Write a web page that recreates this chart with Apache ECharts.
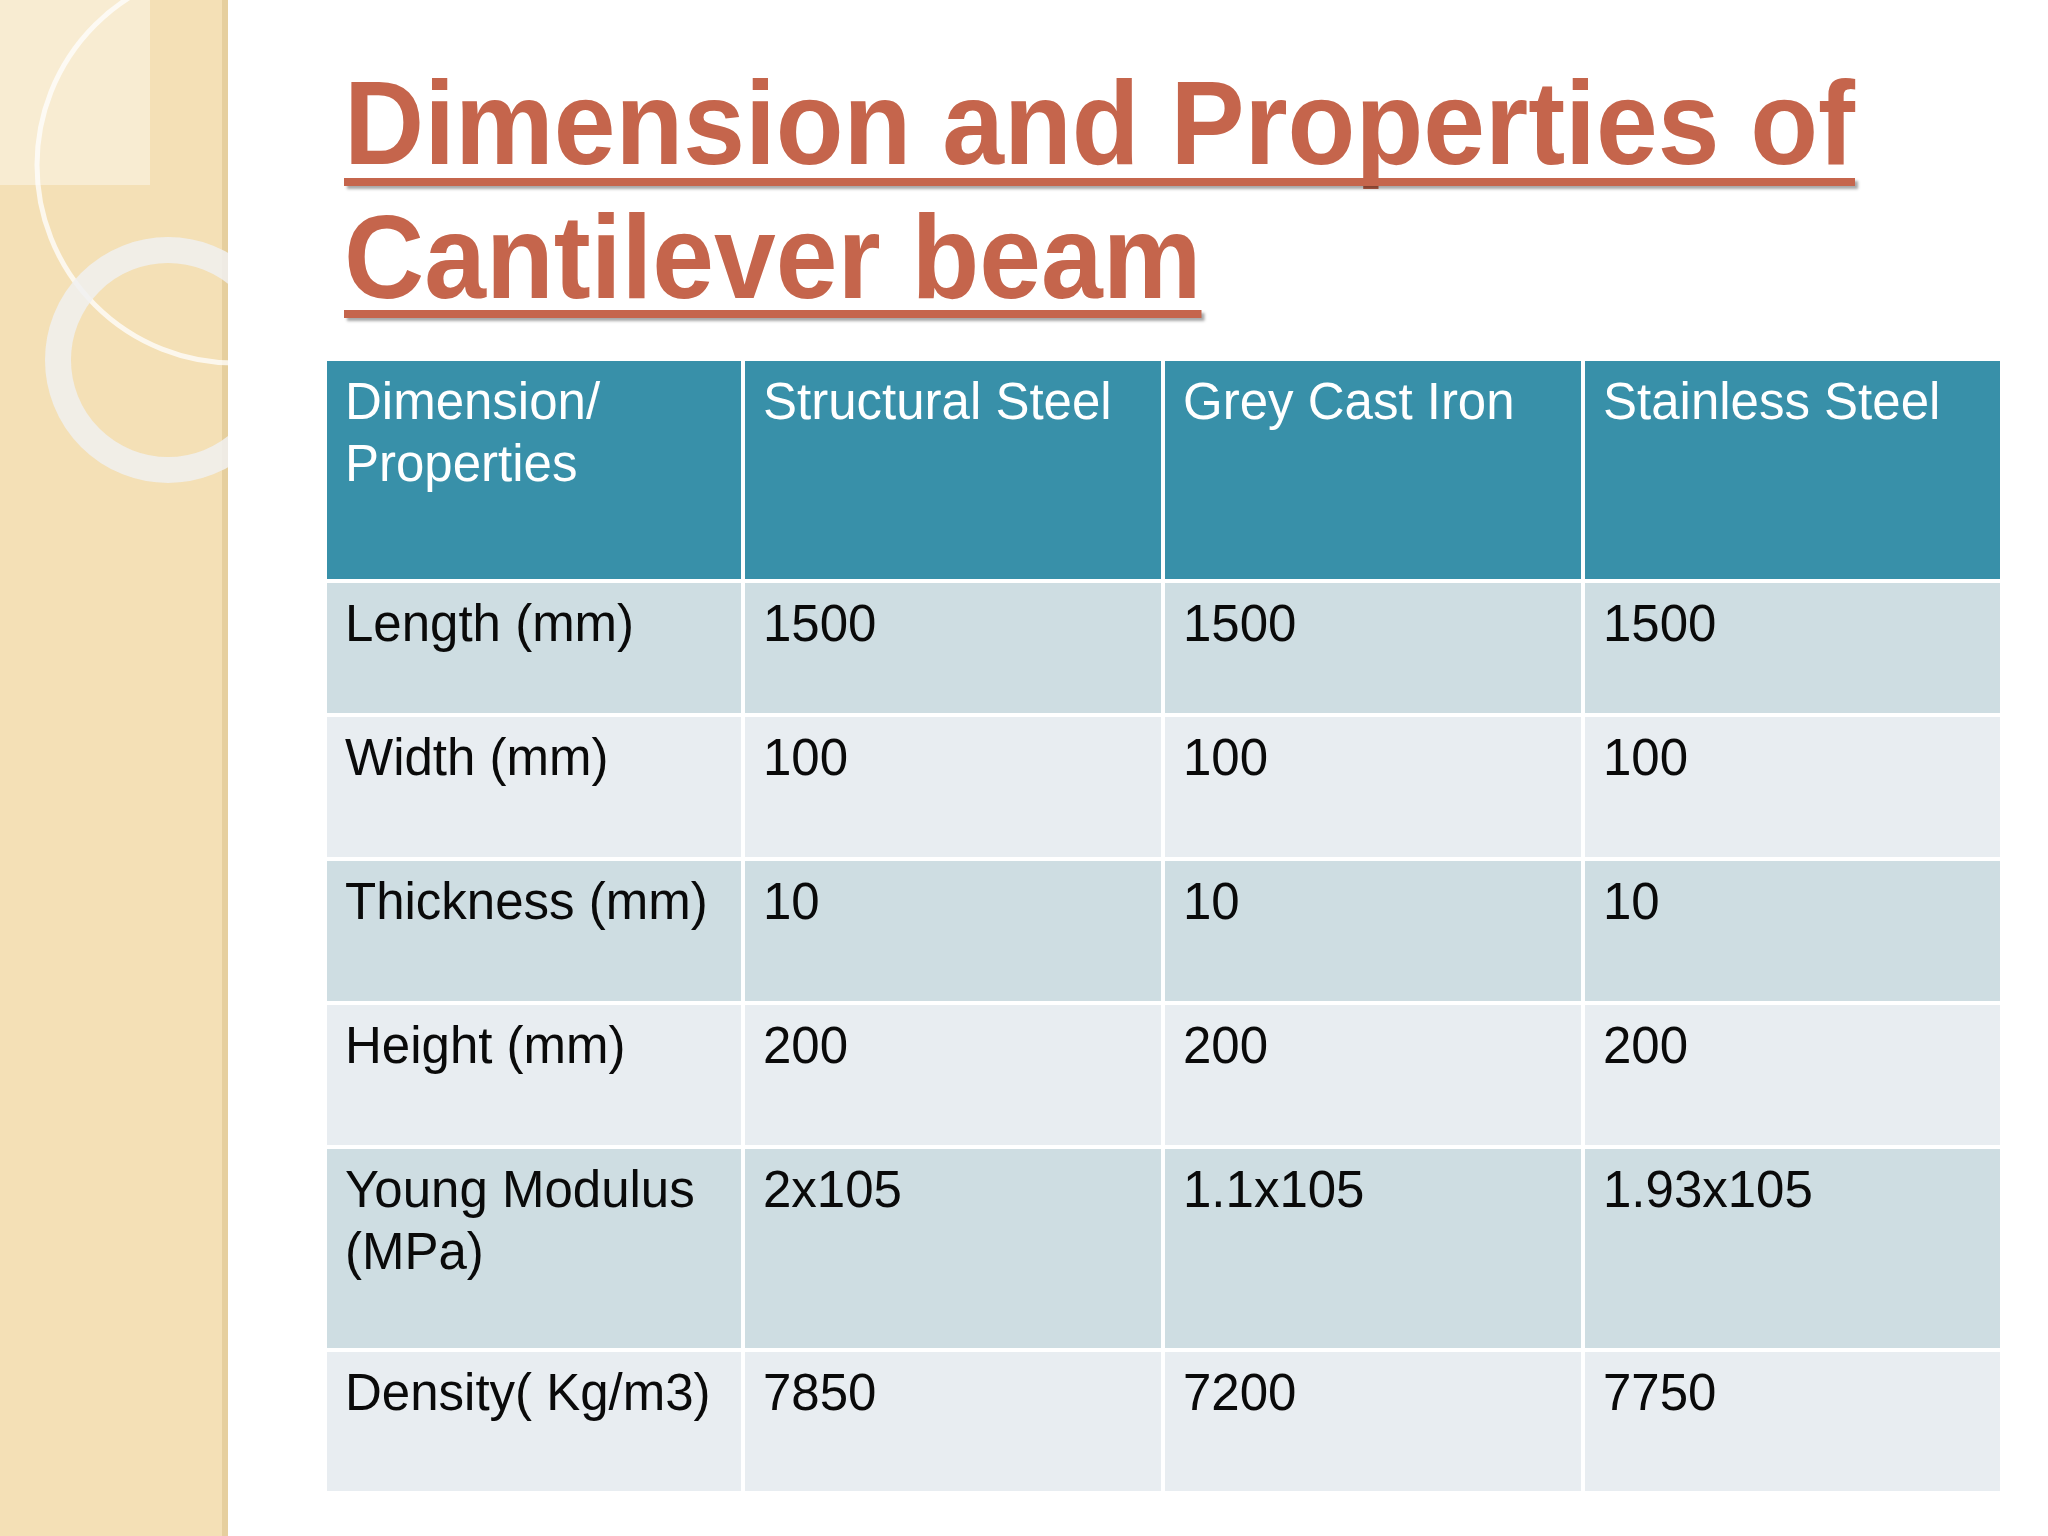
<!DOCTYPE html>
<html><head><meta charset="utf-8">
<script src="https://cdn.jsdelivr.net/npm/echarts@6/dist/echarts.min.js"></script>
<style>html,body{margin:0;padding:0;background:#fff}#c{width:2048px;height:1536px}</style>
</head><body><div id="c"></div>
<script>
// === Datos de la tabla ===
const headers = ['Dimension/\nProperties', 'Structural Steel', 'Grey Cast Iron', 'Stainless Steel'];
const rowLabels = ['Length (mm)', 'Width (mm)', 'Thickness (mm)', 'Height (mm)', 'Young Modulus\n(MPa)', 'Density( Kg/m3)'];
const structuralSteel = ['1500', '100', '10', '200', '2x105', '7850'];
const greyCastIron = ['1500', '100', '10', '200', '1.1x105', '7200'];
const stainlessSteel = ['1500', '100', '10', '200', '1.93x105', '7750'];

// === Layout (px en lienzo 2048x1536) ===
const COL_X = [325, 743, 1163, 1583, 2002];
const ROW_Y = [359, 581, 715, 859, 1003, 1147, 1350, 1493];
const GAP = 2;
const headC = '#3890a9', oddC = '#cedde2', evenC = '#e8edf1';
const titleC = '#c5654c';
const FONT = '"Liberation Sans", Arial, sans-serif';

const cols = [structuralSteel, greyCastIron, stainlessSteel];
const cells = [];
headers.forEach((h, c) => cells.push({ value: [c, 0], text: h }));
rowLabels.forEach((l, r) => {
  cells.push({ value: [0, r + 1], text: l });
  cols.forEach((arr, c) => cells.push({ value: [c + 1, r + 1], text: arr[r] }));
});

function renderCell(params, api){
  const c = api.value(0), r = api.value(1);
  const p0 = api.coord([COL_X[c], ROW_Y[r]]);
  const p1 = api.coord([COL_X[c + 1], ROW_Y[r + 1]]);
  const fill = r === 0 ? headC : (r % 2 ? oddC : evenC);
  const txt = cells[params.dataIndex].text;
  return { type:'group', children:[
    { type:'rect', shape:{ x:p0[0] + GAP, y:p0[1] + GAP, width:p1[0] - p0[0] - GAP * 2, height:p1[1] - p0[1] - GAP * 2 },
      style:{ fill } },
    { type:'text', style:{ text:txt, x:p0[0] + 20, y:p0[1] + 15, font:'51px ' + FONT, lineHeight:62,
      fill: r === 0 ? '#ffffff' : '#0a0a0a', verticalAlign:'top' } }
  ]};
}

// ajuste de ancho del título
const cv = document.createElement('canvas').getContext('2d');
cv.font = 'bold 118px ' + FONT;
const t1 = 'Dimension and Properties of', t2 = 'Cantilever beam';
const sx = 1511 / cv.measureText(t1).width;
const shadow = { shadowColor:'rgba(0,0,0,0.35)', shadowOffsetX:3, shadowOffsetY:3, shadowBlur:3 };

const chart = echarts.init(document.getElementById('c'));
chart.setOption({
  animation:false,
  grid:{ left:0, right:0, top:0, bottom:0 },
  xAxis:{ type:'value', min:0, max:2048, show:false },
  yAxis:{ type:'value', min:0, max:1536, inverse:true, show:false },
  graphic:[
    { type:'rect', shape:{ x:0, y:0, width:226, height:1536 }, style:{ fill:'#f4e0b6' }, z:-2 },
    { type:'rect', shape:{ x:222, y:0, width:6, height:1536 }, style:{ fill:'#e6cf9e' }, z:-2 },
    { type:'rect', shape:{ x:0, y:0, width:150, height:185 }, style:{ fill:'#f8ecd2' }, z:-2 },
    { type:'arc', shape:{ cx:235, cy:165, r:198, startAngle:0, endAngle:Math.PI * 2 },
      style:{ stroke:'rgba(255,255,255,0.75)', lineWidth:5, fill:null }, z:-1 },
    { type:'arc', shape:{ cx:168, cy:360, r:110, startAngle:0, endAngle:Math.PI * 2 },
      style:{ stroke:'rgba(240,240,240,0.85)', lineWidth:26, fill:null }, z:-1 },
    { type:'rect', shape:{ x:228, y:0, width:1820, height:1536 }, style:{ fill:'#ffffff' }, z:-1 },
    { type:'text', x:344, y:72, scaleX:sx, style:Object.assign({ text:t1, font:'bold 118px ' + FONT, fill:titleC,
      verticalAlign:'top' }, shadow) },
    { type:'rect', shape:{ x:344, y:178, width:1511, height:8 }, style:Object.assign({ fill:titleC }, shadow) },
    { type:'text', x:344, y:206, scaleX:sx, style:Object.assign({ text:t2, font:'bold 118px ' + FONT, fill:titleC,
      verticalAlign:'top' }, shadow) },
    { type:'rect', shape:{ x:344, y:310, width:cv.measureText(t2).width * sx, height:8 },
      style:Object.assign({ fill:titleC }, shadow) }
  ],
  series:[{ type:'custom', renderItem:renderCell, data:cells.map(d => d.value), silent:true }]
});
</script></body></html>
